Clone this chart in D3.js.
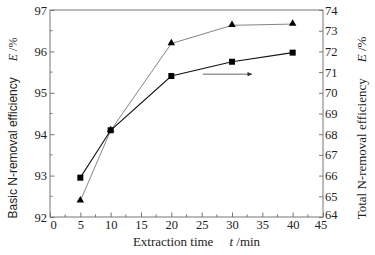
<!DOCTYPE html>
<html>
<head>
<meta charset="utf-8">
<script src="https://cdn.jsdelivr.net/npm/d3@7"></script>
<style>
  body { margin: 0; background: #fff; }
  svg { display: block; }
  text.serif, tspan.serif { font-family: "Liberation Serif", "Times New Roman", Times, "DejaVu Serif", serif; }
  tspan.sans { font-family: "Liberation Sans", Arial, sans-serif; }
</style>
</head>
<body>
<script>
const times = [5, 10, 20, 30, 40];
const basicEff = [92.39, 94.09, 96.19, 96.63, 96.66];   // left axis, triangles
const totalEff = [65.9, 68.19, 70.81, 71.5, 71.94];     // right axis, squares
const xTicks = [0, 5, 10, 15, 20, 25, 30, 35, 40, 45];
const leftTicks = [92, 93, 94, 95, 96, 97];
const rightTicks = [64, 65, 66, 67, 68, 69, 70, 71, 72, 73, 74];
const arrowFromTo = [25.2, 33.3];   // x in minutes
const arrowLevel = 70.9;            // right axis value

const svgWidth = 375, svgHeight = 255;
const margin = {top: 10, right: 52, bottom: 38, left: 50};
const chartWidth = svgWidth - margin.left - margin.right;
const chartHeight = svgHeight - margin.top - margin.bottom;
const axisCol = "#777";

const svg = d3.select("body").append("svg")
    .attr("width", svgWidth).attr("height", svgHeight);
const g = svg.append("g").attr("transform", `translate(${margin.left},${margin.top})`);

const x = d3.scaleLinear().domain([0, 45]).range([0, chartWidth]);
const yL = d3.scaleLinear().domain([92, 97]).range([chartHeight, 0]);
const yR = d3.scaleLinear().domain([64, 74]).range([chartHeight, 0]);
const fmt = d3.format("d");

// frame
g.append("rect").attr("width", chartWidth).attr("height", chartHeight)
    .attr("fill", "none").attr("stroke", axisCol).attr("stroke-width", 1);

function styleAxis(sel) {
    sel.attr("font-family", null).attr("font-size", null);
    sel.select(".domain").remove();
    sel.selectAll("line").attr("stroke", axisCol);
    sel.selectAll("text").attr("class", "serif").style("font-size", "12.5px").attr("fill", "#222");
}

// minor ticks
const xMinor = d3.range(2.5, 45, 5);
g.append("g").selectAll("line").data(xMinor).join("line")
    .attr("x1", d => x(d)).attr("x2", d => x(d))
    .attr("y1", chartHeight).attr("y2", chartHeight - 2.5).attr("stroke", axisCol);
g.append("g").selectAll("line").data(d3.range(92.5, 97, 1)).join("line")
    .attr("x1", 0).attr("x2", 2.5)
    .attr("y1", d => yL(d)).attr("y2", d => yL(d)).attr("stroke", axisCol);

const xAxisG = g.append("g").attr("transform", `translate(0,${chartHeight})`)
    .call(d3.axisBottom(x).tickValues(xTicks).tickFormat(fmt).tickSizeInner(-4.5).tickSizeOuter(0).tickPadding(3))
    .call(styleAxis);

g.append("g")
    .call(d3.axisLeft(yL).tickValues(leftTicks).tickFormat(fmt).tickSizeInner(-4.5).tickSizeOuter(0).tickPadding(3))
    .call(styleAxis);

const rAxisG = g.append("g").attr("transform", `translate(${chartWidth},0)`)
    .call(d3.axisRight(yR).tickValues(rightTicks).tickFormat(fmt).tickSizeInner(-4).tickSizeOuter(0).tickPadding(2))
    .call(styleAxis);

// corner labels nudged as in the reference
xAxisG.selectAll("text").filter(d => d === 0).attr("dx", "0.25em");
xAxisG.selectAll("text").filter(d => d === 45).attr("dx", "-0.2em");
rAxisG.selectAll("text").filter(d => d === 64).attr("dy", "0.1em");

// lines
const triLine = d3.line().x((d, i) => x(times[i])).y(d => yL(d));
const sqLine = d3.line().x((d, i) => x(times[i])).y(d => yR(d));

g.append("path").datum(basicEff).attr("d", triLine)
    .attr("fill", "none").attr("stroke", "#666").attr("stroke-width", 0.8);
g.append("path").datum(totalEff).attr("d", sqLine)
    .attr("fill", "none").attr("stroke", "#111").attr("stroke-width", 1.1);

g.append("g").selectAll("path").data(basicEff).join("path")
    .attr("d", d3.symbol(d3.symbolTriangle, 24))
    .attr("transform", (d, i) => `translate(${x(times[i])},${yL(d) - 0.5})`)
    .attr("fill", "#000");
g.append("g").selectAll("rect").data(totalEff).join("rect")
    .attr("x", (d, i) => x(times[i]) - 3).attr("y", d => yR(d) - 3)
    .attr("width", 6).attr("height", 6).attr("fill", "#000");

// arrow
svg.append("defs").append("marker").attr("id", "ah")
    .attr("viewBox", "0 0 10 10").attr("refX", 10).attr("refY", 5)
    .attr("markerWidth", 7).attr("markerHeight", 4.5).attr("orient", "auto")
    .attr("markerUnits", "userSpaceOnUse")
    .append("path").attr("d", "M0,0L10,5L0,10Z").attr("fill", "#333");
g.append("line")
    .attr("x1", x(arrowFromTo[0])).attr("x2", x(arrowFromTo[1]))
    .attr("y1", yR(arrowLevel)).attr("y2", yR(arrowLevel))
    .attr("stroke", "#666").attr("stroke-width", 1).attr("marker-end", "url(#ah)");

// axis titles
const xt = svg.append("text").attr("class", "serif").attr("x", margin.left + chartWidth / 2 + 10).attr("y", 246)
    .attr("text-anchor", "middle").style("font-size", "13px").attr("fill", "#222");
xt.append("tspan").text("Extraction time");
xt.append("tspan").attr("dx", 16).attr("font-style", "italic").text("t");
xt.append("tspan").text(" /min");

const lt = svg.append("text").attr("transform", "translate(17,128) rotate(-90)")
    .attr("text-anchor", "middle").style("font-size", "12px").attr("fill", "#222");
lt.append("tspan").attr("class", "sans").text("Basic N-removal efficiency");
lt.append("tspan").attr("class", "serif").attr("dx", 16).attr("font-style", "italic").text("E");
lt.append("tspan").attr("class", "serif").text(" /%");

const rt = svg.append("text").attr("class", "serif").attr("transform", "translate(366,128) rotate(-90)")
    .attr("text-anchor", "middle").style("font-size", "13px").attr("fill", "#222");
rt.append("tspan").text("Total N-removal efficiency");
rt.append("tspan").attr("dx", 16).attr("font-style", "italic").text("E");
rt.append("tspan").text(" /%");
</script>
</body>
</html>
